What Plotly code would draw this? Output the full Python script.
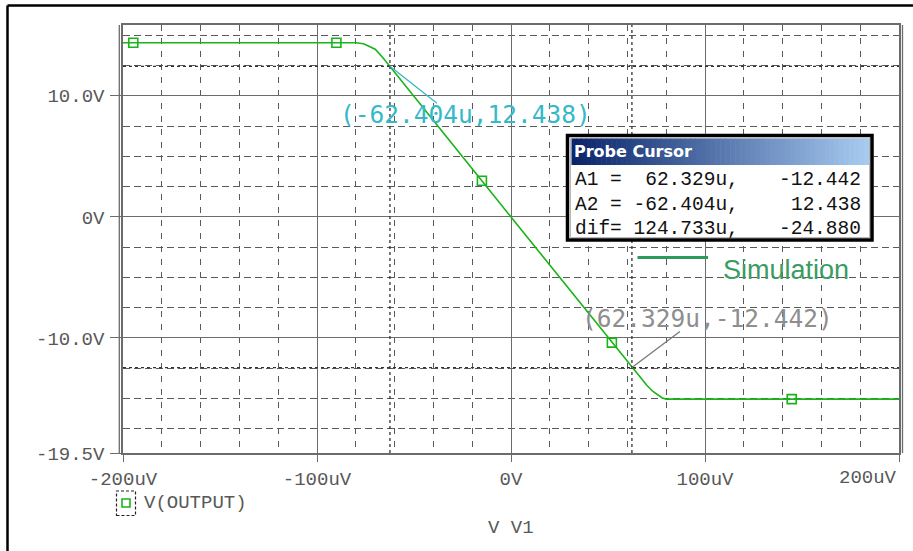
import plotly.graph_objects as go

# ---- sweep data: V(OUTPUT) versus input V1 (input in microvolts) ----
vin_uV = [-200, -80, -76, -73, -70, -66, -62.404, -40, -20, 0, 20, 40,
          62.329, 66, 70, 73, 76, 78, 80, 200]
vout = [14.39, 14.39, 14.30, 14.10, 13.85, 13.15, 12.438, 7.97, 3.98, -0.01,
        -4.00, -7.99, -12.442, -13.17, -13.90, -14.40, -14.78, -14.96, -15.05, -15.05]

# trace symbol positions along the curve
marker_x = [-194.7, -90, -15, 52, 144.7]
marker_y = [14.39, 14.39, 2.98, -10.38, -15.05]

# probe cursors (x in uV, y in V)
a1 = (62.329, -12.442)
a2 = (-62.404, 12.438)

# axis ticks
x_ticks = [-200, -100, 0, 100, 200]
x_ticktext = ["-200uV", "-100uV", "0V", "100uV", ""]
y_ticks = [-19.5, -10, 0, 10]
y_ticktext = ["-19.5V", "-10.0V", "0V", "10.0V"]

W, H = 913, 551
ML, MR, MT, MB = 123, 14, 25, 98
PW, PH = W - ML - MR, H - MT - MB


def px(x):
    return (x - ML) / PW


def py(y):
    return (H - MB - y) / PH


GREEN = "#19b419"
GRID = "#5a5a5a"
MAJOR = "#6c6c6c"
TXT = "#585858"
MONO = "Liberation Mono, Courier New, monospace"

fig = go.Figure()

fig.add_trace(go.Scatter(
    x=vin_uV, y=vout, mode="lines",
    line=dict(color=GREEN, width=1.6),
    showlegend=False, hoverinfo="skip"))

fig.add_trace(go.Scatter(
    x=marker_x, y=marker_y, mode="markers",
    marker=dict(symbol="square-open", size=9, color=GREEN, line=dict(width=1.6)),
    showlegend=False, hoverinfo="skip"))

shapes = []

# cursor lines
for cx in (a1[0], a2[0]):
    shapes.append(dict(type="line", xref="x", yref="paper", x0=cx, x1=cx, y0=0, y1=1,
                       line=dict(color="#333333", width=1.3, dash="dot"), layer="above"))
for cy in (a1[1], a2[1]):
    shapes.append(dict(type="line", xref="paper", yref="y", x0=0, x1=1, y0=cy, y1=cy,
                       line=dict(color="#333333", width=1.3, dash="dot"), layer="above"))

# leader lines from the cursor points to their labels
shapes.append(dict(type="line", xref="x", yref="y", xsizemode="pixel", ysizemode="pixel",
                   xanchor=a2[0], yanchor=a2[1], x0=0, y0=0, x1=47, y1=-37,
                   line=dict(color="#36b8c8", width=1.3)))
shapes.append(dict(type="line", xref="x", yref="y", xsizemode="pixel", ysizemode="pixel",
                   xanchor=a1[0], yanchor=a1[1], x0=0, y0=0, x1=48, y1=36,
                   line=dict(color="#7a7a7a", width=1.3)))

# double frame on left and right plot edges
for xx in (119.3, 902.5):
    shapes.append(dict(type="line", xref="paper", yref="paper", x0=px(xx), x1=px(xx),
                       y0=0, y1=1, line=dict(color=MAJOR, width=1.3)))

# outer page border (top and left)
shapes.append(dict(type="line", xref="paper", yref="paper", x0=px(7.5), x1=px(7.5),
                   y0=py(551), y1=py(5.5), line=dict(color="black", width=2.5)))
shapes.append(dict(type="line", xref="paper", yref="paper", x0=px(7.5), x1=px(913),
                   y0=py(5.5), y1=py(5.5), line=dict(color="black", width=2.5)))

# probe cursor window
shapes.append(dict(type="rect", xref="paper", yref="paper",
                   x0=px(567.5), x1=px(872), y0=py(240), y1=py(135.5),
                   line=dict(color="black", width=3.5), fillcolor="white", layer="above"))
shapes.append(dict(type="rect", xref="paper", yref="paper",
                   x0=px(570.5), x1=px(869.5), y0=py(237.5), y1=py(138),
                   line=dict(color="#b8b8b8", width=1), fillcolor="rgba(0,0,0,0)", layer="above"))
c0, c1 = (10, 36, 106), (166, 202, 240)
n = 60
x_a, x_b = 571.5, 869
for i in range(n):
    t = i / (n - 1)
    col = "rgb(%d,%d,%d)" % tuple(round(c0[k] + (c1[k] - c0[k]) * t) for k in range(3))
    xa = x_a + (x_b - x_a) * i / n
    xb = x_a + (x_b - x_a) * (i + 1) / n + 0.6
    shapes.append(dict(type="rect", xref="paper", yref="paper",
                       x0=px(xa), x1=px(min(xb, x_b)), y0=py(165), y1=py(138.5),
                       line=dict(width=0), fillcolor=col, layer="above"))

# "Simulation" legend swatch
shapes.append(dict(type="line", xref="paper", yref="paper", x0=px(637.5), x1=px(708),
                   y0=py(257.5), y1=py(257.5), line=dict(color="#2f9a5e", width=3),
                   layer="above"))

# V(OUTPUT) trace legend symbol
shapes.append(dict(type="rect", xref="paper", yref="paper", x0=px(116.5), x1=px(135.5),
                   y0=py(515.5), y1=py(491), line=dict(color="#222222", width=1.2, dash="3px,2px")))
shapes.append(dict(type="rect", xref="paper", yref="paper", x0=px(122), x1=px(130),
                   y0=py(507), y1=py(499), line=dict(color=GREEN, width=1.6)))

annotations = [
    dict(x=a2[0], y=a2[1], xref="x", yref="y", xshift=76, yshift=-48, showarrow=False,
         text="(%.3fu,%.3f)" % a2, font=dict(family="DejaVu Sans Mono", size=24.5, color="#34b9c9")),
    dict(x=a1[0], y=a1[1], xref="x", yref="y", xshift=76, yshift=49, showarrow=False,
         text="(%.3fu,%.3f)" % a1, font=dict(family="DejaVu Sans Mono", size=24.5, color="#8e8e8e")),
    dict(x=200, y=py(478), xref="x", yref="paper", xanchor="right", yanchor="middle",
         showarrow=False, text="200uV", font=dict(family=MONO, size=19, color=TXT)),
    dict(x=px(142), y=py(503), xref="paper", yref="paper", xanchor="left", yanchor="middle",
         showarrow=False, text="V(OUTPUT)", font=dict(family=MONO, size=19, color=TXT)),
    dict(x=0.5, y=py(528), xref="paper", yref="paper", xanchor="center", yanchor="middle",
         showarrow=False, text="V V1", font=dict(family=MONO, size=19, color=TXT)),
    dict(x=px(572), y=py(151.5), xref="paper", yref="paper", xanchor="left", yanchor="middle",
         showarrow=False, text="<b>Probe Cursor</b>",
         font=dict(family="DejaVu Sans", size=16, color="white")),
    dict(x=px(721), y=py(269.5), xref="paper", yref="paper", xanchor="left", yanchor="middle",
         showarrow=False, text="Simulation",
         font=dict(family="Liberation Sans, Arial", size=27, color="#3a9c62")),
]

rows = [
    ("A1 =  %.3fu," % a1[0], "%.3f" % a1[1], 180),
    ("A2 = %.3fu," % a2[0], "%.3f" % a2[1], 204.5),
    ("dif= %.3fu," % (a1[0] - a2[0]), "%.3f" % (a1[1] - a2[1]), 228.5),
]
for left, right, yy in rows:
    annotations.append(dict(x=px(572.5), y=py(yy), xref="paper", yref="paper",
                            xanchor="left", yanchor="middle", showarrow=False, text=left,
                            font=dict(family=MONO, size=19.5, color="#111111")))
    annotations.append(dict(x=px(863), y=py(yy), xref="paper", yref="paper",
                            xanchor="right", yanchor="middle", showarrow=False, text=right,
                            font=dict(family=MONO, size=19.5, color="#111111")))

fig.update_layout(
    width=W, height=H,
    margin=dict(l=ML, r=MR, t=MT, b=MB),
    paper_bgcolor="white", plot_bgcolor="white",
    showlegend=False,
    shapes=shapes,
    annotations=annotations,
    xaxis=dict(
        range=[-200, 200], tickmode="array", tickvals=x_ticks, ticktext=x_ticktext,
        showgrid=True, gridcolor=MAJOR, gridwidth=1.4, zeroline=False,
        showline=True, mirror=True, linecolor=MAJOR, linewidth=1.5,
        ticks="outside", ticklen=7, tickwidth=1.4, tickcolor=MAJOR,
        tickfont=dict(family=MONO, size=19, color=TXT), ticklabelstandoff=0,
        minor=dict(tickmode="linear", tick0=0, dtick=20, showgrid=True,
                   gridcolor=GRID, gridwidth=1, griddash="6px,7px", ticks=""),
        fixedrange=True,
    ),
    yaxis=dict(
        range=[-19.5, 15.85], tickmode="array", tickvals=y_ticks, ticktext=y_ticktext,
        showgrid=True, gridcolor=MAJOR, gridwidth=1.4, zeroline=False,
        showline=True, mirror=True, linecolor=MAJOR, linewidth=1.5,
        ticks="outside", ticklen=11, tickwidth=1.4, tickcolor=MAJOR,
        tickfont=dict(family=MONO, size=19, color=TXT), ticklabelstandoff=2,
        minor=dict(tickmode="linear", tick0=0, dtick=2.5, showgrid=True,
                   gridcolor=GRID, gridwidth=1, griddash="7px,4px", ticks=""),
        fixedrange=True,
    ),
)

fig.write_html("out.html")
